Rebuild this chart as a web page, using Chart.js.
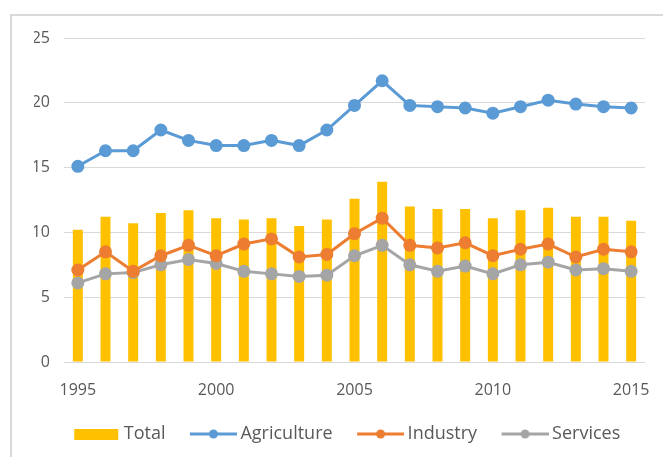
<!DOCTYPE html>
<html lang="en">
<head>
    <meta charset="UTF-8">
    <title>Employment by sector</title>
    <script src="https://cdn.jsdelivr.net/npm/chart.js"></script>
    <style>
        html, body { margin: 0; padding: 0; background: #fff; }
        #wrap { width: 663px; height: 457px; position: relative; }
    </style>
</head>
<body>
    <div id="wrap"><canvas id="chart"></canvas></div>

    <script>
        const years = ['1995','1996','1997','1998','1999','2000','2001','2002','2003','2004',
                       '2005','2006','2007','2008','2009','2010','2011','2012','2013','2014','2015'];
        const total       = [10.2, 11.2, 10.7, 11.5, 11.7, 11.1, 11.0, 11.1, 10.5, 11.0, 12.6, 13.9, 12.0, 11.8, 11.8, 11.1, 11.7, 11.9, 11.2, 11.2, 10.9];
        const agriculture = [15.1, 16.3, 16.3, 17.9, 17.1, 16.7, 16.7, 17.1, 16.7, 17.9, 19.8, 21.7, 19.8, 19.7, 19.6, 19.2, 19.7, 20.2, 19.9, 19.7, 19.6];
        const industry    = [7.1, 8.5, 7.0, 8.2, 9.0, 8.2, 9.1, 9.5, 8.1, 8.3, 9.9, 11.1, 9.0, 8.8, 9.2, 8.2, 8.7, 9.1, 8.1, 8.7, 8.5];
        const services    = [6.1, 6.8, 6.9, 7.5, 7.9, 7.6, 7.0, 6.8, 6.6, 6.7, 8.2, 9.0, 7.5, 7.0, 7.4, 6.8, 7.5, 7.7, 7.1, 7.2, 7.0];

        const cTotal = '#ffc000', cAgri = '#5b9bd5', cInd = '#ed7d31', cServ = '#a5a5a5';

        // legend box is 56 wide; the marker image is 67 wide and centred on it,
        // so drawing the mark at its right end puts it close to the text
        const BOXW = 56, IMGW = 67;

        function lineMarker(color) {
            const c = document.createElement('canvas');
            c.width = IMGW; c.height = 12;
            const g = c.getContext('2d');
            const x0 = IMGW - 47;
            g.strokeStyle = color; g.lineWidth = 3;
            g.beginPath(); g.moveTo(x0, 6); g.lineTo(IMGW, 6); g.stroke();
            g.fillStyle = color;
            g.beginPath(); g.arc(x0 + 23.5, 6, 4.5, 0, Math.PI * 2); g.fill();
            return c;
        }
        function boxMarker(color) {
            const c = document.createElement('canvas');
            c.width = IMGW; c.height = 11;
            const g = c.getContext('2d');
            g.fillStyle = color; g.fillRect(IMGW - 46, 0, 44, 11);
            return c;
        }

        const frame = {
            id: 'frame',
            beforeDraw(chart) {
                const ctx = chart.ctx;
                ctx.save();
                ctx.strokeStyle = '#d9d9d9';
                ctx.lineWidth = 2;
                ctx.strokeRect(11, 15, 700, 500);
                ctx.restore();
            }
        };

        function lineSet(label, data, color, order) {
            return {
                type: 'line', label: label, data: data,
                borderColor: color, backgroundColor: color,
                borderWidth: 3, pointRadius: 5, pointHoverRadius: 5,
                pointStyle: 'circle', tension: 0, order: order
            };
        }

        const markers = [boxMarker(cTotal), lineMarker(cAgri), lineMarker(cInd), lineMarker(cServ)];

        new Chart(document.getElementById('chart'), {
            type: 'bar',
            data: {
                labels: years,
                datasets: [
                    { label: 'Total', data: total, backgroundColor: cTotal,
                      barPercentage: 0.36, categoryPercentage: 1, order: 5 },
                    lineSet('Agriculture', agriculture, cAgri, 1),
                    lineSet('Industry', industry, cInd, 2),
                    lineSet('Services', services, cServ, 3)
                ]
            },
            options: {
                responsive: true,
                maintainAspectRatio: false,
                animation: false,
                layout: { padding: { left: 34, right: 18, top: 38, bottom: 4 } },
                plugins: {
                    tooltip: { enabled: false },
                    legend: {
                        position: 'bottom',
                        labels: {
                            usePointStyle: true,
                            pointStyleWidth: BOXW,
                            padding: 10,
                            color: '#595959',
                            font: { family: 'Open Sans', size: 18 },
                            sort: (a, b) => a.datasetIndex - b.datasetIndex,
                            generateLabels(chart) {
                                return chart.data.datasets.map((ds, i) => ({
                                    text: ds.label,
                                    datasetIndex: i,
                                    pointStyle: markers[i],
                                    fillStyle: ds.backgroundColor,
                                    strokeStyle: ds.backgroundColor,
                                    fontColor: '#595959',
                                    lineWidth: 0,
                                    hidden: false
                                }));
                            }
                        }
                    }
                },
                scales: {
                    x: {
                        grid: { display: false },
                        border: { display: false },
                        ticks: {
                            autoSkip: false, maxRotation: 0, padding: 11,
                            color: '#595959',
                            font: { family: 'Open Sans', size: 16 },
                            callback: function (v, i) {
                                const y = years[i];
                                return (Number(y) % 5 === 0) ? y : '';
                            }
                        },
                        afterFit(scale) { scale.height = 53; }
                    },
                    y: {
                        min: 0, max: 25,
                        grid: { color: '#d9d9d9', drawTicks: false },
                        border: { display: false },
                        ticks: {
                            stepSize: 5, padding: 14,
                            color: '#595959',
                            font: { family: 'Open Sans', size: 16 }
                        },
                        afterFit(scale) { scale.width = 30; }
                    }
                }
            },
            plugins: [frame]
        });
    </script>
</body>
</html>
